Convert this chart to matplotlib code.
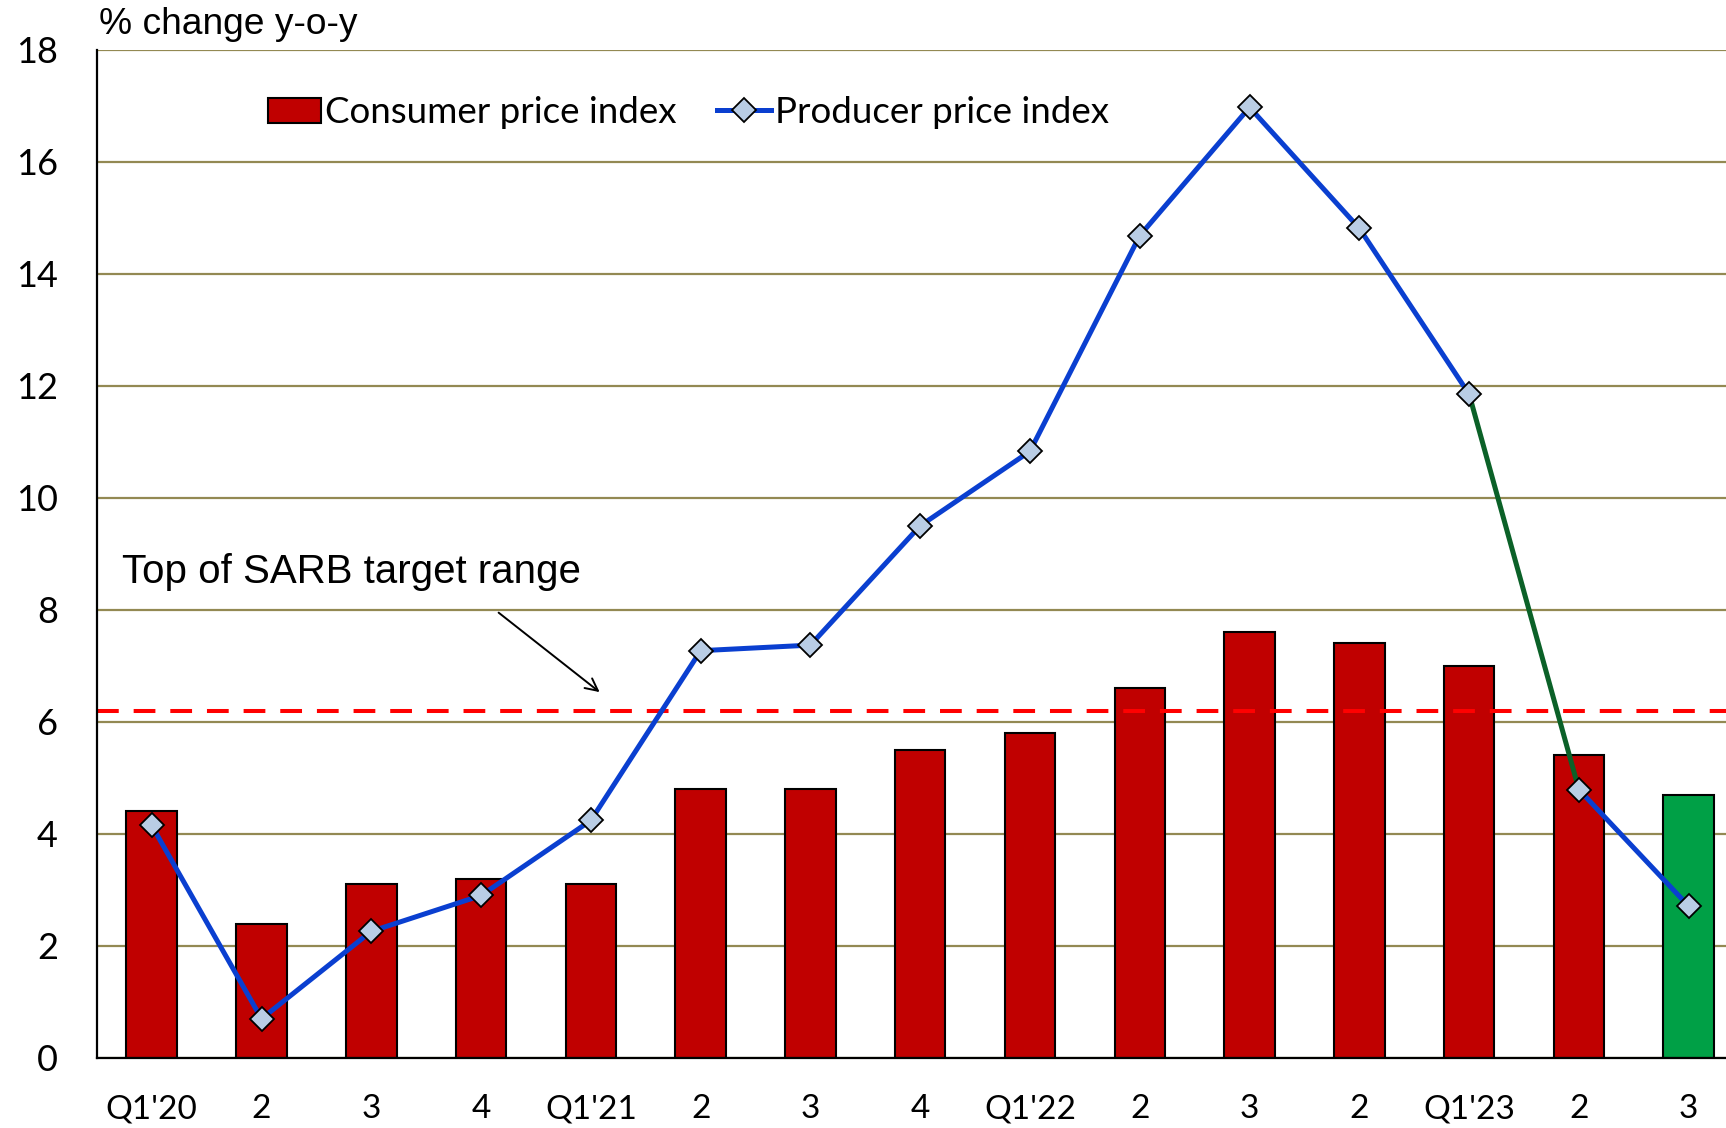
import matplotlib
matplotlib.use('Agg')
import matplotlib.pyplot as plt
from matplotlib.patches import Patch
from matplotlib.lines import Line2D

quarters = ["Q1'20", "2", "3", "4", "Q1'21", "2", "3", "4",
            "Q1'22", "2", "3", "2", "Q1'23", "2", "3"]
cpi = [4.4, 2.4, 3.1, 3.2, 3.1, 4.8, 4.8, 5.5, 5.8, 6.6, 7.6, 7.4, 7.0, 5.4, 4.7]
ppi = [4.15, 0.7, 2.26, 2.9, 4.24, 7.27, 7.37, 9.5, 10.83, 14.68, 16.97, 14.81,
       11.85, 4.79, 2.71]
sarb_top = 6.2
yticks = [0, 2, 4, 6, 8, 10, 12, 14, 16, 18]

RED = '#C00000'
GREEN_BAR = '#00A046'
BLUE = '#0A3FD0'
DARK_GREEN = '#0B6128'
GRID = '#938953'
TICK_FONT = 'Lato'
TEXT_FONT = 'Liberation Sans'

fig = plt.figure(figsize=(17.26, 11.28), dpi=100)
ax = fig.add_axes([0.0561, 0.0621, 0.9439, 0.8939])

x = list(range(len(quarters)))
bar_colors = [RED] * (len(cpi) - 1) + [GREEN_BAR]
ax.bar(x, cpi, width=0.46, color=bar_colors, edgecolor='black', linewidth=1.5, zorder=3)

# target range line
ax.axhline(sarb_top, color='#FF0000', lw=2.9, dashes=(5.4, 3.7), zorder=4)

# ppi line, one segment in green
for i in range(len(ppi) - 1):
    c = DARK_GREEN if i == 12 else BLUE
    ax.plot([x[i], x[i + 1]], [ppi[i], ppi[i + 1]], color=c, lw=3.6, zorder=5,
            solid_capstyle='round')
ax.plot(x, ppi, ls='none', marker='D', ms=12, mfc='#B9CDE5', mec='black',
        mew=1.3, zorder=6)

ax.set_ylim(0, 18)
ax.set_xlim(-0.5, 14.34)
ax.set_yticks(yticks)
ax.set_xticks(x)
ax.set_xticklabels(quarters)
ax.yaxis.grid(True, color=GRID, lw=1.6, zorder=0)
ax.set_axisbelow(True)
ax.tick_params(axis='y', length=0, pad=28, labelsize=26)
ax.tick_params(axis='x', length=0, pad=26, labelsize=24)
for lab in ax.get_xticklabels() + ax.get_yticklabels():
    lab.set_fontfamily(TICK_FONT)
for side in ['top', 'right']:
    ax.spines[side].set_visible(False)
for side in ['left', 'bottom']:
    ax.spines[side].set_linewidth(1.6)
    ax.spines[side].set_zorder(7)

# annotation
ax.text(-0.27, 8.68, 'Top of SARB target range', fontsize=29,
        family=TEXT_FONT, va='center', ha='left')
ax.annotate('', xy=(4.1, 6.5), xytext=(3.14, 7.98),
            arrowprops=dict(arrowstyle='->', color='black', lw=1.4,
                            mutation_scale=22))

fig.text(0.0574, 0.978, '% change y-o-y', fontsize=26.7, family=TEXT_FONT,
         va='center', ha='left')

handles = [Patch(facecolor=RED, edgecolor='black', linewidth=1.5),
           Line2D([], [], color=BLUE, lw=3.6, marker='D', ms=12,
                  mfc='#B9CDE5', mec='black', mew=1.3)]
ax.legend(handles, ['Consumer price index', 'Producer price index'],
          loc='center left', bbox_to_anchor=(0.1465, 0.9, ),
          bbox_transform=fig.transFigure, ncol=2, frameon=False,
          prop={'family': TICK_FONT, 'size': 26.5}, handlelength=1.45,
          handletextpad=0.12, columnspacing=1.1, borderaxespad=0)

fig.savefig('out.png', dpi=100)
